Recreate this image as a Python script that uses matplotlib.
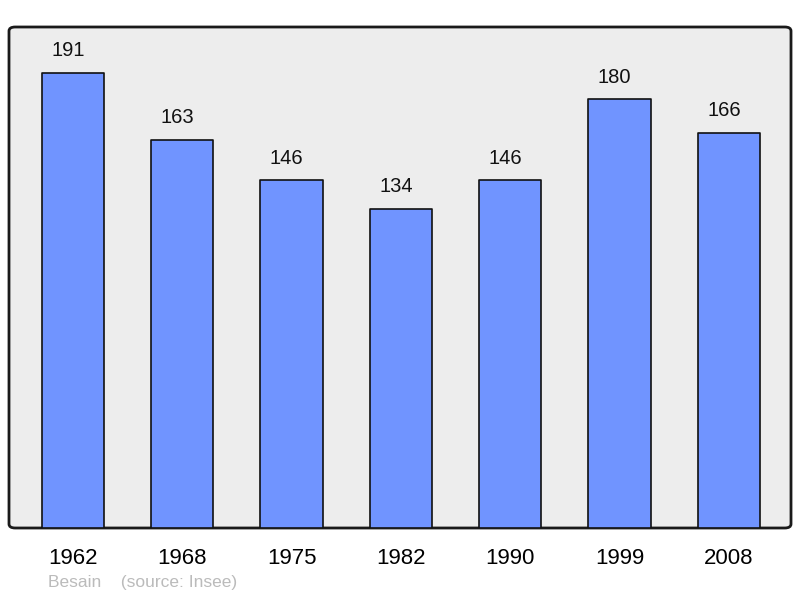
import matplotlib
matplotlib.use("Agg")
import matplotlib.pyplot as plt
from matplotlib.patches import FancyBboxPatch

years = ["1962", "1968", "1975", "1982", "1990", "1999", "2008"]
population = [191, 163, 146, 134, 146, 180, 166]

plt.rcParams["font.family"] = ["Liberation Sans", "DejaVu Sans"]

fig = plt.figure(figsize=(8, 5.98), dpi=100)
ax = fig.add_axes([9 / 800, 70 / 598, 782 / 800, 501 / 598])
ax.set_facecolor("none")
for s in ax.spines.values():
    s.set_visible(False)

# rounded frame with grey background
frame = FancyBboxPatch((0, 0), 1, 1, boxstyle="round,pad=0,rounding_size=0.008",
                       transform=ax.transAxes, facecolor="#ededed",
                       edgecolor="#1a1a1a", linewidth=2, zorder=0, clip_on=False)
ax.add_patch(frame)

x = list(range(len(years)))
bars = ax.bar(x, population, width=0.57, color="#7094ff", edgecolor="#111111",
              linewidth=1.2, zorder=2)
for b in bars:
    b.set_joinstyle("round")

for xi, v in zip(x, population):
    ax.annotate(str(v), (xi, v), xytext=(-3.5, 9), textcoords="offset points",
                ha="center", va="bottom", fontsize=14.5, color="#111111")

ax.set_xlim(-0.585, 6.57)
ax.set_ylim(0, 210.3)
ax.set_yticks([])
ax.set_xticks(x)
ax.set_xticklabels(years, fontsize=16)
ax.tick_params(axis="x", length=0, pad=14.5)

fig.text(48 / 800, 1 - 583 / 598, "Besain    (source: Insee)", fontsize=12.5,
         color="#bbbbbb", va="center", ha="left")

fig.savefig("out.png", dpi=100)
